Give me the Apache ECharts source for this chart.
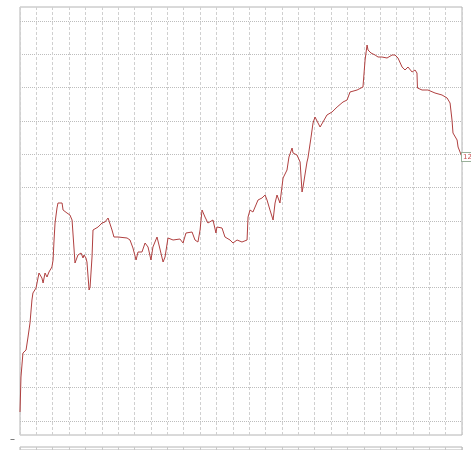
<!DOCTYPE html>
<html>
<head>
<meta charset="utf-8">
<script src="https://cdn.jsdelivr.net/npm/echarts@6/dist/echarts.min.js"></script>
<style>html,body{margin:0;padding:0;background:#fff;}#c{width:471px;height:450px;}</style>
</head>
<body>
<div id="c"></div>
<script>
// Time index (bars) and price values
var barIndex = [0,0.6,1.8,3.7,4.9,6.1,7.3,7.9,9.8,11.0,11.6,13.4,14.1,15.3,16.5,17.7,19.5,20.2,20.8,21.4,22.6,23.2,24.4,25.7,26.3,28.7,30.5,31.8,32.4,33.6,34.8,35.4,37.3,38.5,39.1,40.3,40.9,42.2,42.8,44.0,44.6,45.8,47.7,50.1,51.9,53.8,55.0,56.2,57.4,59.9,61.1,65.4,67.2,69.0,70.9,72.1,74.5,76.4,78.2,80.0,81.2,83.7,84.9,87.4,88.6,90.4,93.5,97.7,99.6,101.4,105.1,106.9,108.7,110.0,111.2,113.0,114.8,117.9,119.7,120.3,123.4,125.2,128.3,130.1,132.6,135.6,138.7,139.3,140.5,142.3,143.6,145.4,147.8,149.7,150.9,152.7,154.6,155.8,157.0,158.8,160.7,163.1,164.3,166.2,166.8,169.2,171.1,172.3,172.9,175.3,175.9,177.8,179.0,180.2,181.4,183.3,185.1,187.5,190.6,193.7,197.3,199.8,201.6,205.9,209.5,210.8,212.0,212.6,214.4,216.9,218.7,221.1,224.2,227.3,229.1,230.9,233.4,235.2,237.0,239.5,241.3,242.5,242.8,245.6,249.2,253.5,257.8,260.9,262.7,263.9,264.5,265.7,267.0,267.6,270.0];
var price = [4.27,5.32,6.04,6.13,6.52,6.94,7.63,7.84,7.99,8.29,8.44,8.29,8.14,8.44,8.32,8.47,8.62,8.83,9.43,9.94,10.39,10.54,10.57,10.54,10.33,10.24,10.18,10.03,10.03,8.74,8.77,8.98,9.04,8.89,8.98,8.89,8.77,7.93,8.02,8.92,9.73,9.79,9.82,9.94,9.97,10.09,10.12,9.73,9.52,9.52,9.52,9.49,9.43,9.19,8.83,9.07,9.07,9.34,9.22,8.83,9.22,9.52,9.28,8.77,8.92,9.49,9.43,9.46,9.34,9.64,9.67,9.43,9.37,9.73,10.33,10.12,9.94,10.03,9.64,9.82,9.79,9.52,9.43,9.34,9.43,9.37,9.43,10.12,10.33,10.27,10.42,10.63,10.69,10.78,10.63,10.33,10.03,10.54,10.78,10.54,11.29,11.53,11.92,12.19,12.04,11.98,11.77,10.87,11.02,11.77,11.89,12.52,12.94,13.12,13.12,12.82,12.97,13.18,13.27,13.42,13.57,13.63,13.87,13.93,14.02,14.83,15.28,15.13,15.04,14.98,14.92,14.92,14.89,14.98,14.98,14.89,14.62,14.53,14.62,14.47,14.53,14.44,13.99,13.93,13.93,13.84,13.78,13.69,13.54,13.03,12.64,12.67,12.43,12.22,11.92];

var seriesData = barIndex.map(function (x, i) { return [x, price[i]]; });

var noAxis = {axisLine: {show: false}, axisTick: {show: false}, axisLabel: {show: false}};
function ax(o) { return Object.assign({}, noAxis, o); }

var chart = echarts.init(document.getElementById('c'), null, {renderer: 'canvas'});
chart.setOption({
  animation: false,
  backgroundColor: '#ffffff',
  grid: [
    // outer frame with vertical grid
    {left: 20, right: 9, top: 7, bottom: 15, show: true, borderColor: '#b4b4b4', borderWidth: 1, backgroundColor: 'transparent'},
    // data area (price 4..16)
    {left: 20, right: 9, top: 21, bottom: 29, show: false},
    // lower panel strip
    {left: 20, right: 9, top: 447, height: 12, show: true, borderColor: '#b4b4b4', borderWidth: 1, backgroundColor: 'transparent'}
  ],
  xAxis: [
    ax({type: 'value', gridIndex: 0, min: 0, max: 270, interval: 10,
     splitLine: {show: true, lineStyle: {color: '#d0d0d0', type: [3, 2], width: 1}}}),
    ax({type: 'value', gridIndex: 1, min: 0, max: 270, splitLine: {show: false}}),
    ax({type: 'value', gridIndex: 2, min: 0, max: 270, interval: 10,
     splitLine: {show: true, lineStyle: {color: '#c8c8c8', width: 1}}})
  ],
  yAxis: [
    ax({type: 'value', gridIndex: 0, min: 0, max: 1, splitLine: {show: false}}),
    ax({type: 'value', gridIndex: 1, min: 4, max: 16, interval: 1,
     splitLine: {show: true, lineStyle: {color: '#bdbdbd', type: [1, 1], width: 1}}}),
    ax({type: 'value', gridIndex: 2, min: 0, max: 1, splitLine: {show: false}})
  ],
  graphic: [
    {type: 'text', left: 10, top: 434, style: {text: '–', fill: '#555', fontSize: 10, fontFamily: 'DejaVu Sans'}}
  ],
  series: [{
    type: 'line',
    xAxisIndex: 1, yAxisIndex: 1,
    data: seriesData,
    showSymbol: false,
    symbol: 'none',
    clip: false,
    lineStyle: {color: '#b04040', width: 1},
    endLabel: {
      show: true,
      formatter: function (p) { return String(Math.round(p.value[1])); },
      color: '#c85050',
      fontSize: 7,
      fontFamily: 'DejaVu Sans',
      backgroundColor: '#ffffff',
      borderColor: '#9ab09a',
      borderWidth: 1,
      padding: [1, 0, 0, 1],
      distance: 0
    }
  }]
});
</script>
</body>
</html>
